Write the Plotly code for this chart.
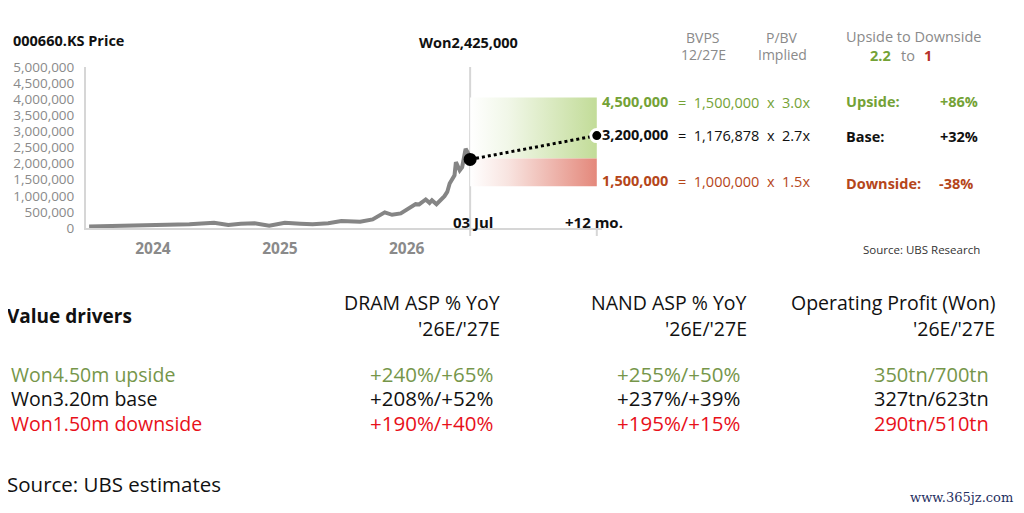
import plotly.graph_objects as go

# ---------------- data ----------------
price_dates = [
    "2023-07-01", "2023-09-01", "2023-11-01", "2024-02-05", "2024-04-15",
    "2024-06-25", "2024-08-05", "2024-09-10", "2024-10-20", "2024-12-01",
    "2025-01-15", "2025-03-01", "2025-04-05", "2025-05-20", "2025-06-27",
    "2025-08-20", "2025-09-25", "2025-10-30", "2025-11-20", "2025-12-15",
    "2026-01-08", "2026-01-27", "2026-02-06", "2026-02-25", "2026-03-08",
    "2026-03-15", "2026-03-28", "2026-04-20", "2026-04-28", "2026-05-05",
    "2026-05-19", "2026-05-23", "2026-06-03", "2026-06-10", "2026-06-20",
    "2026-06-28", "2026-07-03",
]
price_values = [
    45000, 60000, 70000, 93000, 120000,
    164000, 93000, 130000, 145000, 71000,
    164000, 135000, 120000, 145000, 216000,
    194000, 268000, 485000, 410000, 454000,
    608000, 741000, 731000, 886000, 781000,
    864000, 741000, 988000, 1120000, 1380000,
    1636000, 2046000, 1790000, 1892000, 2460000,
    2305000, 2130000,
]

current_date = "2026-07-03"
current_price = 2130000
target_date = "2027-07-03"
base_plot_level = 2870000
upside_band = [2160000, 4050000]
downside_band = [1300000, 2160000]

y_tick_vals = [0, 500000, 1000000, 1500000, 2000000, 2500000, 3000000,
               3500000, 4000000, 4500000, 5000000]
y_tick_text = ["0", "500,000", "1,000,000", "1,500,000", "2,000,000",
               "2,500,000", "3,000,000", "3,500,000", "4,000,000",
               "4,500,000", "5,000,000"]
x_tick_vals = ["2024-01-01", "2025-01-01", "2026-01-01"]
x_tick_text = ["2024", "2025", "2026"]

scenario_targets = ["4,500,000", "3,200,000", "1,500,000"]
scenario_bvps = ["1,500,000", "1,176,878", "1,000,000"]
scenario_pbv = ["3.0x", "2.7x", "1.5x"]
scenario_names = ["Upside:", "Base:", "Downside:"]
scenario_pct = ["+86%", "+32%", "-38%"]
ratio_up, ratio_down = "2.2", "1"
current_label = "Won2,425,000"

row_labels = ["Won4.50m upside", "Won3.20m base", "Won1.50m downside"]
dram_vals = ["+240%/+65%", "+208%/+52%", "+190%/+40%"]
nand_vals = ["+255%/+50%", "+237%/+39%", "+195%/+15%"]
op_vals = ["350tn/700tn", "327tn/623tn", "290tn/510tn"]
col_headers = ["DRAM ASP % YoY", "NAND ASP % YoY", "Operating Profit (Won)"]
col_sub = "'26E/'27E"

# ---------------- styling ----------------
OFF = 8                      # page body margin of the html page
W, H = 1024 - OFF, 513 - OFF
FONT = "Open Sans"
GRAY = "#8a8a8a"
GREEN_T = "#74a236"
RED_T = "#b5461a"
GREEN_TBL = "#76964a"
RED_TBL = "#e8101a"
top_colors = [GREEN_T, "#111111", RED_T]
tbl_colors = [GREEN_TBL, "#111111", RED_TBL]


def px(x, y):
    return (x - OFF) / W, 1 - (y - OFF) / H


fig = go.Figure()

# gradient boxes
fig.add_trace(go.Scatter(
    x=[current_date, target_date, target_date, current_date, current_date],
    y=[upside_band[0], upside_band[0], upside_band[1], upside_band[1], upside_band[0]],
    mode="lines", line=dict(width=0), fill="toself",
    fillgradient=dict(type="horizontal",
                      colorscale=[[0, "rgba(255,255,255,1)"], [0.3, "#f1f7e8"],
                                  [1, "#c2dc98"]]),
    hoverinfo="skip", showlegend=False))
fig.add_trace(go.Scatter(
    x=[current_date, target_date, target_date, current_date, current_date],
    y=[downside_band[0], downside_band[0], downside_band[1], downside_band[1], downside_band[0]],
    mode="lines", line=dict(width=0), fill="toself",
    fillgradient=dict(type="horizontal",
                      colorscale=[[0, "rgba(255,255,255,1)"], [0.3, "#f8e4e0"],
                                  [1, "#e4887b"]]),
    hoverinfo="skip", showlegend=False))

# price line
fig.add_trace(go.Scatter(x=price_dates, y=price_values, mode="lines",
                         line=dict(color="#858585", width=4),
                         showlegend=False, hoverinfo="skip"))
# dotted projection
fig.add_trace(go.Scatter(x=[current_date, target_date],
                         y=[current_price, base_plot_level], mode="lines",
                         line=dict(color="black", width=3, dash="dot"),
                         showlegend=False, hoverinfo="skip"))
fig.add_trace(go.Scatter(x=[current_date], y=[current_price], mode="markers",
                         marker=dict(color="black", size=13),
                         showlegend=False, hoverinfo="skip", cliponaxis=False))
fig.add_trace(go.Scatter(x=[target_date], y=[base_plot_level], mode="markers",
                         marker=dict(color="black", size=12,
                                     line=dict(color="white", width=3)),
                         showlegend=False, hoverinfo="skip", cliponaxis=False))

x0p, y_bot = px(86, 228)
x1p, y_top = px(602, 67)
fig.update_layout(
    width=W, height=H, margin=dict(l=0, r=0, t=0, b=0, autoexpand=False),
    paper_bgcolor="white", plot_bgcolor="white",
    font=dict(family=FONT),
    xaxis=dict(domain=[x0p, x1p], type="date", automargin=False,
               range=["2023-06-22", "2027-07-18"],
               showgrid=False, zeroline=False, showline=True,
               linecolor="#d6d6d6", linewidth=2,
               tickvals=x_tick_vals, ticktext=x_tick_text, ticks="",
               tickfont=dict(size=15.5, color=GRAY, weight="bold"),
               ticklabelstandoff=5),
    yaxis=dict(domain=[y_bot, y_top], range=[0, 5000000], automargin=False,
               showgrid=False, zeroline=False, showline=True,
               linecolor="#d6d6d6", linewidth=2,
               tickvals=y_tick_vals, ticktext=y_tick_text, ticks="",
               tickfont=dict(size=13.5, color=GRAY),
               ticklabelstandoff=7),
)

# vertical markers
fig.add_shape(type="line", xref="x", yref="paper", x0=current_date, x1=current_date,
              y0=px(0, 236)[1], y1=px(0, 67)[1],
              line=dict(color="#d6d6d6", width=2), layer="below")
fig.add_shape(type="line", xref="x", yref="paper", x0=target_date, x1=target_date,
              y0=px(0, 236)[1], y1=px(0, 228)[1],
              line=dict(color="#d6d6d6", width=2), layer="below")


def ann(text, x, y, size, color="#111111", bold=False, xanchor="left", family=FONT):
    xx, yy = px(x, y)
    fig.add_annotation(text=text, x=xx, y=yy, xref="paper", yref="paper",
                       xanchor=xanchor, yanchor="middle", showarrow=False,
                       font=dict(size=size, color=color, family=family,
                                 weight="bold" if bold else "normal"))


# top header texts
ann("000660.KS Price", 11, 40, 14.5, bold=True)
ann(current_label, 468, 42, 14.5, bold=True, xanchor="center")
ann("BVPS", 703, 37, 14, GRAY, xanchor="center")
ann("12/27E", 703, 55, 14, GRAY, xanchor="center")
ann("P/BV", 782, 37, 14, GRAY, xanchor="center")
ann("Implied", 782, 55, 14, GRAY, xanchor="center")
ann("Upside to Downside", 913, 36, 14.5, GRAY, xanchor="center")
ann(ratio_up, 880, 56, 14.5, GREEN_T, bold=True, xanchor="center")
ann("to", 908, 56, 14.5, GRAY, xanchor="center")
ann(ratio_down, 928, 56, 14.5, "#b5312a", bold=True, xanchor="center")

ann("03 Jul", 473, 222, 15, bold=True, xanchor="center")
ann("+12 mo.", 594, 222, 15, bold=True, xanchor="center")
ann("Source: UBS Research", 982, 249, 11.5, "#333333", xanchor="right")

# scenario rows
row_y = [102, 134, 180]
lab_y = [102, 136, 183]
pct_x = [980, 980, 975]
for i in range(3):
    c = top_colors[i]
    ann(scenario_targets[i], 600, row_y[i], 14.5, c, bold=True)
    ann("=  " + scenario_bvps[i] + "  x  " + scenario_pbv[i], 676, row_y[i] + 1, 14.5, c)
    ann(scenario_names[i], 844, lab_y[i], 14.5, c, bold=True)
    ann(scenario_pct[i], pct_x[i], lab_y[i], 14.5, c, bold=True, xanchor="right")

# value drivers table
ann("Value drivers", 5, 316, 19, bold=True)
hdr_x = [502, 749, 997]
for j in range(3):
    ann(col_headers[j], hdr_x[j], 302, 19.5, xanchor="right")
    ann(col_sub, hdr_x[j], 328, 19.5, xanchor="right")

tbl_y = [374, 398, 423]
val_x = [495, 742, 991]
for i in range(3):
    ann(row_labels[i], 9, tbl_y[i], 19.5, tbl_colors[i])
    ann(dram_vals[i], val_x[0], tbl_y[i], 20.5, tbl_colors[i], xanchor="right")
    ann(nand_vals[i], val_x[1], tbl_y[i], 20.5, tbl_colors[i], xanchor="right")
    ann(op_vals[i], val_x[2], tbl_y[i], 20, tbl_colors[i], xanchor="right")

ann("Source: UBS estimates", 5, 484, 20.5)
ann("www.365jz.com", 1015, 497, 13, "#1f2f5f", xanchor="right", family="DejaVu Serif")

fig.write_html("out.html")
